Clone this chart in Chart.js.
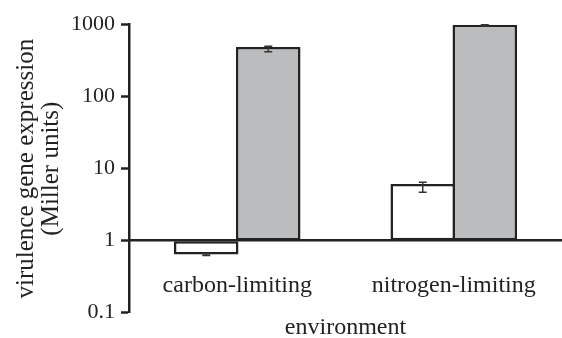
<!DOCTYPE html>
<html>
<head>
<meta charset="utf-8">
<script src="https://cdn.jsdelivr.net/npm/chart.js@4/dist/chart.umd.min.js"></script>
<style>
  html, body { margin: 0; padding: 0; background: #fff; }
  #wrap { width: 562px; height: 338px; }
</style>
</head>
<body>
<div id="wrap"><canvas id="c" width="562" height="338"></canvas></div>
<script>
// ---- data ----
const categories = ['carbon-limiting', 'nitrogen-limiting'];
const whiteValues = [0.64, 6.1];
const greyValues = [490, 1000];
const whiteErrLow = [0.62, 4.7];
const whiteErrHigh = [0.66, 6.5];
const greyErrLow = [420, 970];
const greyErrHigh = [500, 1000];
const yTickValues = [0.1, 1, 10, 100, 1000];
const yTickLabels = ['0.1', '1', '10', '100', '1000'];

const INK = '#222222';
const SERIF = '"Liberation Serif", "Times New Roman", Times, serif';

const errorBarPlugin = {
  id: 'errorBars',
  afterDatasetsDraw(chart) {
    const ctx = chart.ctx;
    const yScale = chart.scales.y;
    chart.data.datasets.forEach((ds, di) => {
      const meta = chart.getDatasetMeta(di);
      meta.data.forEach((bar, i) => {
        const lo = ds.errLow[i], hi = ds.errHigh[i];
        const yLo = yScale.getPixelForValue(lo);
        const yHi = yScale.getPixelForValue(hi);
        const x = bar.x;
        const cap = 4;
        ctx.save();
        ctx.strokeStyle = '#333';
        ctx.lineWidth = 1.5;
        ctx.beginPath();
        ctx.moveTo(x, yLo); ctx.lineTo(x, yHi);
        ctx.moveTo(x - cap, yLo); ctx.lineTo(x + cap, yLo);
        ctx.moveTo(x - cap, yHi); ctx.lineTo(x + cap, yHi);
        ctx.stroke();
        ctx.restore();
      });
    });
  }
};

Chart.defaults.font.family = SERIF;
Chart.defaults.color = INK;

new Chart(document.getElementById('c'), {
  type: 'bar',
  data: {
    labels: categories,
    datasets: [
      {
        data: whiteValues,
        errLow: whiteErrLow,
        errHigh: whiteErrHigh,
        base: 1,
        backgroundColor: '#ffffff',
        borderColor: INK,
        borderWidth: 2.5,
        borderSkipped: false
      },
      {
        data: greyValues,
        errLow: greyErrLow,
        errHigh: greyErrHigh,
        base: 1,
        backgroundColor: '#bbbcbe',
        borderColor: INK,
        borderWidth: 2.5,
        borderSkipped: false
      }
    ]
  },
  options: {
    responsive: false,
    animation: false,
    devicePixelRatio: 1,
    layout: { padding: { top: 24.7, right: 0, bottom: 0, left: 0 } },
    datasets: { bar: { barPercentage: 1.04, categoryPercentage: 0.573 } },
    plugins: {
      legend: { display: false },
      tooltip: { enabled: false },
      title: {
        display: true,
        position: 'bottom',
        fullSize: false,
        text: 'environment',
        color: INK,
        font: { family: SERIF, size: 24, weight: 'normal', lineHeight: 0.84 },
        padding: { top: 5.2, bottom: 0 }
      }
    },
    scales: {
      x: {
        position: { y: 1 },
        offset: true,
        grid: { display: true, drawOnChartArea: false, drawTicks: true, tickLength: 31, tickColor: 'rgba(0,0,0,0)' },
        border: { display: true, color: INK, width: 2.5 },
        ticks: { font: { size: 24 }, color: INK, padding: 0, maxRotation: 0, autoSkip: false }
      },
      y: {
        type: 'logarithmic',
        position: 'left',
        min: 0.1,
        max: 1000,
        afterBuildTicks(scale) {
          scale.ticks = yTickValues.map(v => ({ value: v }));
        },
        afterFit(scale) {
          scale.width = 129;
        },
        grid: { display: true, drawOnChartArea: false, drawTicks: true, tickLength: 8, tickColor: INK, tickWidth: 2.5 },
        border: { display: true, color: INK, width: 2.5 },
        ticks: {
          font: { size: 22 },
          color: INK,
          padding: 6,
          callback(value) {
            const idx = yTickValues.indexOf(value);
            return idx >= 0 ? yTickLabels[idx] : '';
          }
        },
        title: {
          display: true,
          text: ['virulence gene expression', '(Miller units)'],
          color: INK,
          font: { size: 25, lineHeight: 1.0 },
          padding: { top: 14, bottom: 7 }
        }
      }
    }
  },
  plugins: [errorBarPlugin]
});
</script>
</body>
</html>
